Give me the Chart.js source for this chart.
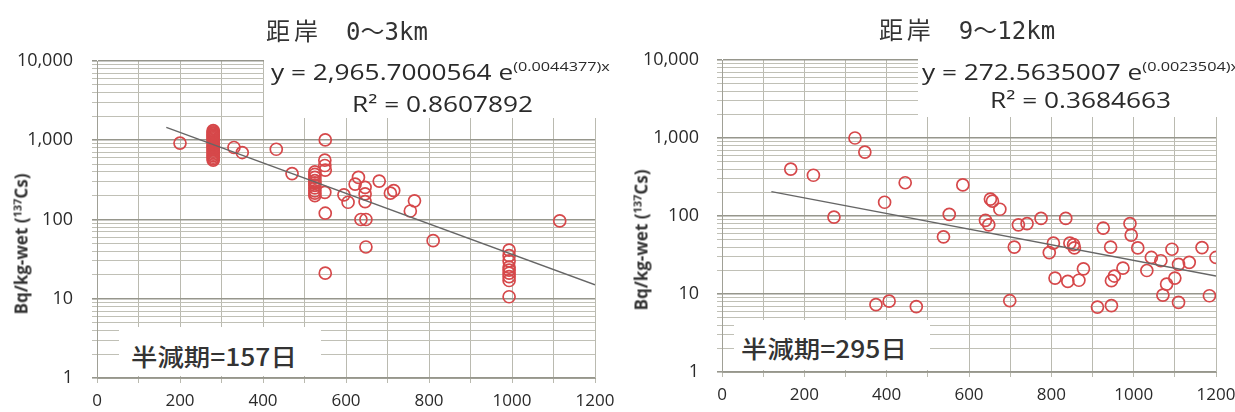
<!DOCTYPE html>
<html>
<head>
<meta charset="utf-8">
<script src="https://cdn.jsdelivr.net/npm/chart.js@4.4.1/dist/chart.umd.min.js"></script>
<style>
  body { margin: 0; background: #fff; width: 1235px; height: 412px; position: relative; overflow: hidden;
         font-family: 'Open Sans', sans-serif; color: #333; }
  .panel { position: absolute; top: 0; height: 412px; }
  .panel canvas { position: absolute; left: 0; top: 0; }
  .title { position: absolute; font-family: 'DejaVu Sans Mono', 'Noto Sans CJK JP', monospace; font-size: 24px;
           white-space: nowrap; transform: translate(-50%, -50%); color: #333; }
  .title .kj { letter-spacing: 4px; }
  .box { position: absolute; background: #fff; }
  .eq { position: absolute; font-size: 21px; white-space: nowrap; transform-origin: left center; color: #2a2a2a; }
  .eq sup { font-size: 13px; vertical-align: 9px; line-height: 0; }
  .hl { position: absolute; font-family: 'Noto Sans CJK JP', sans-serif; font-size: 24px; font-weight: 500;
        white-space: nowrap; transform-origin: left center; color: #333; }
  .ytitle { position: absolute; font-size: 17px; font-weight: 700; white-space: nowrap; color: #333;
            transform: translate(-50%, -50%) rotate(-90deg); }
  .ytitle sup { font-size: 11px; vertical-align: 6px; line-height: 0; }
</style>
</head>
<body>

<div class="panel" id="pL" style="left:0;width:617px">
  <canvas id="cNear" width="617" height="412"></canvas>
  <div class="title" style="left:347px;top:29px"><span class="kj">距岸</span>　0～3km</div>
  <div class="box" style="left:264px;top:46px;width:353px;height:72px"></div>
  <div class="eq" style="left:271px;top:58px;transform:scaleX(1.25)">y = 2,965.7000564 e<sup>(0.0044377)x</sup></div>
  <div class="eq" style="left:352px;top:90px;transform:scaleX(1.25)">R² = 0.8607892</div>
  <div class="box" style="left:119px;top:327px;width:202px;height:49px"></div>
  <div class="hl" style="left:131px;top:338px;transform:scaleX(1.1)">半減期=157日</div>
  <div class="ytitle" style="left:21px;top:244px">Bq/kg-wet (<sup>137</sup>Cs)</div>
</div>

<div class="panel" id="pR" style="left:617px;width:618px">
  <canvas id="cFar" width="618" height="412"></canvas>
  <div class="title" style="left:350px;top:28px"><span class="kj">距岸</span>　9～12km</div>
  <div class="box" style="left:301px;top:44px;width:317px;height:73px"></div>
  <div class="eq" style="left:305px;top:58px;transform:scaleX(1.25)">y = 272.5635007 e<sup>(0.0023504)x</sup></div>
  <div class="eq" style="left:373px;top:86px;transform:scaleX(1.25)">R² = 0.3684663</div>
  <div class="box" style="left:117px;top:320px;width:196px;height:50px"></div>
  <div class="hl" style="left:124px;top:330px;transform:scaleX(1.1)">半減期=295日</div>
  <div class="ytitle" style="left:24px;top:240px">Bq/kg-wet (<sup>137</sup>Cs)</div>
</div>

<script>
// axis labels
var xTickLabels = ['0', '200', '400', '600', '800', '1000', '1200'];
var yMajorValues = [1, 10, 100, 1000, 10000];
var yTickLabels = ['1', '10', '100', '1,000', '10,000'];

// 0~3km
var nearX = [200,
  280, 280, 280, 280, 280, 280, 280, 280, 280, 280, 280, 280, 280, 280, 280, 280, 280, 280, 280, 280, 280, 280, 280,
  330, 350, 432, 470, 550, 549, 549, 550,
  525, 525, 525, 525, 525, 525, 525, 525, 525, 525,
  549, 550, 550, 595, 605, 630, 622, 646, 646, 646, 680, 707, 715, 765, 755, 636, 648, 648, 810, 1115,
  993, 993, 993, 993, 993, 993, 993, 993, 993];
var nearY = [920,
  1320, 1280, 1240, 1200, 1160, 1120, 1080, 1040, 1000, 960, 920, 880, 850, 820, 790, 760, 730, 700, 670, 640, 610, 585, 560,
  810, 700, 770, 380, 1010, 560, 480, 420,
  400, 370, 340, 310, 290, 270, 250, 230, 215, 200,
  220, 120, 21, 205, 165, 340, 280, 255, 210, 168, 305, 215, 232, 172, 128, 100, 100, 45, 54, 96,
  41, 35, 30, 25, 23, 21, 19, 17, 10.6];
var nearTrendX = [167, 1200];
var nearTrendY = [1450, 15];

// 9~12km
var farX = [167, 222, 323, 347, 445, 585, 395, 652, 657, 675, 552, 272, 538, 640, 648, 710, 720, 741, 775, 699,
  795, 805, 809, 835, 840, 845, 854, 856, 867, 878, 912, 926, 944, 946, 953, 946, 974, 991, 994, 1010,
  1032, 1043, 1066, 1071, 1080, 1093, 1100, 1109, 1109, 1135, 1166, 1184, 1200, 374, 406, 472];
var farY = [400, 333, 1000, 660, 267, 250, 150, 165, 155, 122, 105, 97, 54, 88, 77, 40, 77, 80, 93, 8.2,
  34, 45, 16, 93, 14.5, 45, 43, 39, 15, 21, 6.8, 70, 40, 14.8, 17, 7.1, 21.5, 80, 57, 39,
  20, 29.4, 26.7, 9.7, 13.4, 37.5, 16, 24, 7.8, 25.5, 39.4, 9.5, 29.4, 7.3, 8.1, 6.9];
var farTrendX = [120, 1200];
var farTrendY = [205, 17];

var RED = 'rgb(214,72,74)';

function pts(xs, ys) {
  return xs.map(function (x, i) { return { x: x, y: ys[i] }; });
}

function isMajor(v) { return yMajorValues.indexOf(v) >= 0; }

function makeChart(id, xs, ys, tx, ty, g) {
  var ctx = document.getElementById(id).getContext('2d');
  return new Chart(ctx, {
    type: 'scatter',
    data: {
      datasets: [{
        type: 'line',
        data: pts(tx, ty),
        borderColor: '#666',
        borderWidth: 1.3,
        pointRadius: 0,
        fill: false
      }, {
        data: pts(xs, ys),
        pointStyle: 'circle',
        pointRadius: 6,
        borderWidth: 1.7,
        borderColor: RED,
        backgroundColor: 'rgba(0,0,0,0)'
      }]
    },
    options: {
      responsive: false,
      animation: false,
      devicePixelRatio: 1,
      layout: { padding: { left: 0, top: g.top, right: g.right, bottom: 0 } },
      plugins: { legend: { display: false }, tooltip: { enabled: false } },
      scales: {
        x: {
          type: 'linear', min: 0, max: 1200,
          afterFit: function (s) { s.height = g.xh; s.paddingLeft = 0; s.paddingRight = 0; },
          grid: { color: 'rgb(186,186,176)', lineWidth: 1, tickLength: 5 },
          border: { color: 'rgb(160,160,150)', width: 1 },
          ticks: {
            stepSize: 100, autoSkip: false, maxRotation: 0, padding: 8,
            color: '#2a2a2a', font: { family: 'Open Sans', size: 17 },
            callback: function (v) { return v % 200 === 0 ? xTickLabels[v / 200] : ''; }
          }
        },
        y: {
          type: 'logarithmic', min: 1, max: 10000,
          afterFit: function (s) { s.width = g.yw; s.paddingTop = 0; s.paddingBottom = 0; },
          afterBuildTicks: function (s) {
            var t = [];
            yMajorValues.forEach(function (m, i) {
              if (i === yMajorValues.length - 1) { t.push({ value: m }); return; }
              for (var k = 1; k <= 9; k++) t.push({ value: m * k });
            });
            s.ticks = t;
          },
          grid: {
            tickLength: 5,
            color: function (c) { return isMajor(c.tick.value) ? 'rgb(150,150,140)' : 'rgb(192,192,182)'; },
            lineWidth: function (c) { return isMajor(c.tick.value) ? 1.6 : 1; }
          },
          border: { color: 'rgb(160,160,150)', width: 1 },
          ticks: {
            autoSkip: false, padding: g.ypad,
            color: '#2a2a2a', font: { family: 'Open Sans', size: 18 },
            callback: function (v) {
              var i = yMajorValues.indexOf(v);
              return i >= 0 ? yTickLabels[i] : '';
            }
          }
        }
      }
    }
  });
}

makeChart('cNear', nearX, nearY, nearTrendX, nearTrendY, { top: 61, right: 22, xh: 34, yw: 97, ypad: 19 });
makeChart('cFar', farX, farY, farTrendX, farTrendY, { top: 60, right: 19, xh: 40, yw: 105, ypad: 18 });
</script>
</body>
</html>
